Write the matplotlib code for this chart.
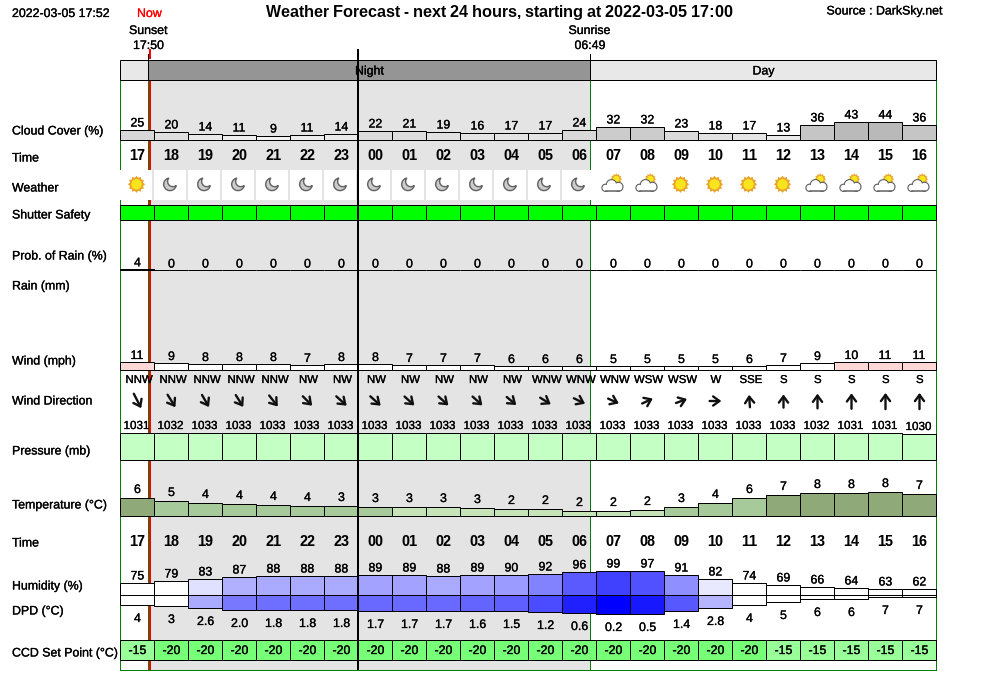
import numpy as np
import matplotlib
matplotlib.use("Agg")
from matplotlib import pyplot as plt
from matplotlib import patheffects as pe
from matplotlib.patches import Circle, Polygon, Rectangle

plt.rcParams["font.family"] = ["Liberation Sans", "DejaVu Sans"]
plt.rcParams["text.hinting"] = "native"
plt.rcParams["text.hinting_factor"] = 1

hours = ["17", "18", "19", "20", "21", "22", "23", "00", "01", "02", "03", "04",
         "05", "06", "07", "08", "09", "10", "11", "12", "13", "14", "15", "16"]
cloud = [25, 20, 14, 11, 9, 11, 14, 22, 21, 19, 16, 17, 17, 24, 32, 32, 23, 18, 17, 13, 36, 43, 44, 36]
weather = ["sun"] + ["moon"] * 13 + ["cloud"] * 2 + ["sun"] * 4 + ["cloud"] * 4
rain_prob = [4] + [0] * 23
wind = [11, 9, 8, 8, 8, 7, 8, 8, 7, 7, 7, 6, 6, 6, 5, 5, 5, 5, 6, 7, 9, 10, 11, 11]
wind_names = ["NNW", "NNW", "NNW", "NNW", "NNW", "NW", "NW", "NW", "NW", "NW", "NW", "NW",
              "WNW", "WNW", "WNW", "WSW", "WSW", "W", "SSE", "S", "S", "S", "S", "S"]
wind_bearing = [333, 328, 330, 328, 322, 315, 312, 312, 312, 312, 312, 310,
                302, 296, 294, 245, 250, 270, 176, 180, 180, 180, 180, 180]
pressure = [1031, 1032, 1033, 1033, 1033, 1033, 1033, 1033, 1033, 1033, 1033, 1033,
            1033, 1033, 1033, 1033, 1033, 1033, 1033, 1033, 1032, 1031, 1031, 1030]
temperature = [6.1, 5.0, 4.3, 4.0, 3.7, 3.5, 3.2, 3.0, 2.9, 2.9, 2.7, 2.3,
               2.3, 1.7, 1.7, 2.0, 3.0, 4.3, 6.0, 7.0, 7.7, 7.7, 8.0, 7.3]
humidity = [75, 79, 83, 87, 88, 88, 88, 89, 89, 88, 89, 90, 92, 96, 99, 97, 91, 82, 74, 69, 66, 64, 63, 62]
dpd = [4, 3.4, 2.6, 2.0, 1.8, 1.8, 1.8, 1.7, 1.7, 1.7, 1.6, 1.5,
       1.2, 0.6, 0.2, 0.5, 1.4, 2.8, 4, 5, 6, 6, 7, 7]
ccd = [-15, -20, -20, -20, -20, -20, -20, -20, -20, -20, -20, -20,
       -20, -20, -20, -20, -20, -20, -20, -15, -15, -15, -15, -15]

row_labels = [("Cloud Cover (%)", 130.5), ("Time", 157.5), ("Weather", 187.5), ("Shutter Safety", 214.5),
              ("Prob. of Rain (%)", 255.5), ("Rain (mm)", 285.5), ("Wind (mph)", 360.5),
              ("Wind Direction", 400.5), ("Pressure (mb)", 450.5), ("Temperature (°C)", 504.5),
              ("Time", 542.5), ("Humidity (%)", 585.5), ("DPD (°C)", 610.5), ("CCD Set Point (°C)", 652.5)]

# layout, in pixels
X0 = 120.5
CELL = 34
PX = 0.72
X_RIGHT = X0 + CELL * 24
X_SUNSET = 148.5
X_SUNRISE = 590.5
X_MIDNIGHT = 359
Y_BOTTOM = 670.5
SMALL = 8.9
xs = X0 + CELL * np.arange(24)
mid = xs + CELL / 2

fig = plt.figure(figsize=(10, 6.8), dpi=100)
ax = fig.add_axes([0, 0, 1, 1])
# one pixel offset so the 1px lines snap on the same rows as the original
ax.set_xlim(1, 1001)
ax.set_ylim(681, 1)
ax.set_axis_off()


def label(x, y, s, size=SMALL, ha="center", heavy=True, **kw):
    t = ax.text(x + 1, y + 2, s, fontsize=size, ha=ha, va="center", zorder=8, **kw)
    if heavy:
        t.set_path_effects([pe.withStroke(linewidth=0.2, foreground=kw.get("color", "black"))])


def bars(base, heights, colors, direction=-1):
    ax.bar(xs, direction * np.round(heights), width=CELL, bottom=base, align="edge",
           color=colors, edgecolor="black", linewidth=PX, zorder=4)


def grey(v):
    return (v / 255, v / 255, v / 255)


def blue(v):
    return (v / 255, v / 255, 1)


def star(cx, cy, r_out, r_in, disk, zorder=5):
    ang = np.arange(24) * np.pi / 12
    rad = np.where(np.arange(24) % 2 == 0, r_out, r_in)
    ax.add_patch(Polygon(np.c_[cx + rad * np.sin(ang), cy + rad * np.cos(ang)],
                         fc="#e9a42c", ec="none", zorder=zorder))
    ax.add_patch(Circle((cx, cy), disk, fc="#f9e51e", ec="none", zorder=zorder))


def moon(cx, cy):
    R, r, off = 6.3, 5.2, 4.0
    base = np.arctan2(-1, 1)
    a = np.arccos((off ** 2 + R ** 2 - r ** 2) / (2 * off * R))
    t1 = np.linspace(base + a, base + 2 * np.pi - a, 40)
    ix, iy = off * np.cos(base), off * np.sin(base)
    p1x, p1y = R * np.cos(base + a), R * np.sin(base + a)
    p2x, p2y = R * np.cos(base - a), R * np.sin(base - a)
    s1 = np.arctan2(p1y - iy, p1x - ix)
    s2 = np.arctan2(p2y - iy, p2x - ix)
    if s2 < s1:
        s2 += 2 * np.pi
    t2 = np.linspace(s2, s1, 30)
    outer = np.c_[cx + R * np.cos(t1), cy + R * np.sin(t1)]
    inner = np.c_[cx + ix + r * np.cos(t2), cy + iy + r * np.sin(t2)]
    ax.add_patch(Polygon(np.r_[outer, inner], fc="#cccccc", ec="#606060", lw=1.0, zorder=5))


def cloud_icon(cx, cy):
    star(cx + 2.8, cy - 5.2, 5.8, 4.3, 3.3)
    bumps = [(cx - 8, cy + 3.5, 3.4), (cx - 2, cy + 0.5, 5.0), (cx + 5, cy + 2.5, 4.3)]
    for x, y, r in bumps:
        ax.add_patch(Circle((x, y), r, fc="white", ec="#606060", lw=1.1, zorder=6))
    ax.add_patch(Rectangle((cx - 8, cy + 2), 13, 4.6, fc="white", ec="none", zorder=6))
    for x, y, r in bumps:
        ax.add_patch(Circle((x, y), r - 0.4, fc="white", ec="none", zorder=6))
    ax.plot([cx - 8, cx + 5], [cy + 6.8, cy + 6.8], color="#606060", lw=1.1, zorder=6)


# night background and frame
ax.add_patch(Rectangle((X_SUNSET, 80.5), X_SUNRISE - X_SUNSET, Y_BOTTOM - 80.5, fc="#e4e4e4", ec="none", zorder=1))
for x in [X0, X_SUNSET, X_SUNRISE, X_RIGHT]:
    ax.plot([x, x], [80.5, Y_BOTTOM], color="green", lw=PX, zorder=2)
ax.plot([X0, X_RIGHT], [Y_BOTTOM, Y_BOTTOM], color="green", lw=PX, zorder=2)
ax.plot([151, 151], [50, 60], color="red", lw=2 * PX, zorder=2, solid_capstyle="butt")
ax.plot([151, 151], [80.5, Y_BOTTOM], color="red", lw=2 * PX, zorder=2, solid_capstyle="butt")

# header
ax.add_patch(Rectangle((X0, 60.5), X_SUNSET - X0, 20, fc="#e8e8e8", ec="black", lw=PX, zorder=3))
ax.add_patch(Rectangle((X_SUNSET, 60.5), X_SUNRISE - X_SUNSET, 20, fc="#959595", ec="black", lw=PX, zorder=3))
ax.add_patch(Rectangle((X_SUNRISE, 60.5), X_RIGHT - X_SUNRISE, 20, fc="#e8e8e8", ec="black", lw=PX, zorder=3))
ax.plot([X_SUNSET, X_SUNSET], [55, 60.5], color="black", lw=PX, zorder=3)
ax.plot([X_SUNRISE, X_SUNRISE], [55, 60.5], color="black", lw=PX, zorder=3)
ax.plot([X_MIDNIGHT, X_MIDNIGHT], [50, Y_BOTTOM], color="black", lw=2 * PX, zorder=7, solid_capstyle="butt")
label(369.5, 70, "Night")
label(763, 70, "Day")

# top texts
label(12, 12.5, "2022-03-05 17:52", ha="left")
label(149.5, 12.5, "Now", color="red")
label(148.5, 29.5, "Sunset")
label(148.5, 44.5, "17:50")
label(590, 29.5, "Sunrise")
label(590, 44.5, "06:49")
label(499.5, 11, "Weather Forecast - next 24 hours, starting at 2022-03-05 17:00", size=11.4,
      fontweight="bold", heavy=False)
label(883, 10, "Source : DarkSky.net")

for name, y in row_labels:
    label(12, y - 0.5, name, ha="left")

# cloud
h = np.array(cloud) * 0.41
bars(140.5, h, [grey(255 - 1.6 * c) for c in cloud])
for x, v, t in zip(mid, cloud, h):
    label(x, 140.5 - round(t) - 8.5, str(v))

# time rows
for y in [155, 540.5]:
    for x, t in zip(mid, hours):
        label(x, y, t, size=10.5, fontweight="bold", heavy=False)

# weather icons
for x, kind in zip(xs, weather):
    ax.add_patch(Rectangle((x + 0.5, 171), 32, 30, fc="white", ec="none", zorder=3))
    if kind == "sun":
        star(x + 17, 185.3, 8.6, 6.7, 5.2)
    elif kind == "moon":
        moon(x + 16.5, 185.3)
    else:
        cloud_icon(x + 18, 185.3)

# shutter
bars(220.5, np.full(24, 15), "#00ff00")

# rain probability
h = np.array(rain_prob) * 0.3
bars(270.5, h, "black")
for x, v, t in zip(mid, rain_prob, h):
    label(x, 263 - t, str(v))

# wind
h = np.array(wind) * 0.75
bars(370.5, h, ["#ffd7d7" if w >= 10 else "white" for w in wind])
for x, v, t in zip(mid, wind, h):
    label(x, 370.5 - round(t) - 8, str(v))
for x, name, b, w in zip(mid, wind_names, wind_bearing, wind):
    label(x, 379, name, size=8.2)
    length = 8 + 0.75 * w
    dx = -np.sin(np.radians(b)) * length / 2
    dy = np.cos(np.radians(b)) * length / 2
    ax.annotate("", xy=(x + 1 + dx, 402 + dy), xytext=(x + 1 - dx, 402 - dy), zorder=6,
                arrowprops=dict(arrowstyle="->,head_length=0.45,head_width=0.33", lw=1.7,
                                color="#101010", shrinkA=0, shrinkB=0))

# pressure
h = np.clip(np.array(pressure) - 1004, 0, 27)
bars(460.5, h, "#c4ffc4")
for x, v, t in zip(mid, pressure, h):
    label(x, 460.5 - t - 9, str(v), size=8.4)

# temperature
h = np.array(temperature) * 3
cols = ["#8fa978" if t >= 6.05 else "#a7ca9a" if t >= 3 else "#c6e4b8" for t in temperature]
bars(516.5, h, cols)
for x, v, t in zip(mid, temperature, h):
    label(x, 516.5 - round(t) - 10, f"{v:.0f}")

# humidity and dew point depression
h = (np.array(humidity) - 50) * 0.5
cols = [blue(np.interp(v, [79, 82, 83, 87, 88, 90, 92, 96, 99], [255, 232, 224, 176, 170, 155, 130, 90, 64])) for v in humidity]
bars(595.5, h, cols)
for x, v, t in zip(mid, humidity, h):
    label(x, 595.5 - round(t) - 8.5, str(v))
h = 20 - 2.6 * np.array(dpd)
cols = [blue(np.interp(v, [0.2, 0.5, 0.6, 1.2, 1.5, 1.8, 2.0, 2.6, 2.8, 3.0], [0, 24, 32, 75, 95, 110, 120, 170, 180, 255])) for v in dpd]
bars(595.5, h, cols, direction=1)
for x, v, t in zip(mid, dpd, h):
    label(x, 595.5 + round(t) + 12, f"{v:.0f}" if v >= 3 else f"{v:.1f}")

# ccd set point
bars(660.5, np.full(24, 20), ["#99ff99" if c == -15 else "#77ff77" for c in ccd])
for x, v in zip(mid, ccd):
    label(x, 649.5, str(v))

fig.savefig("out.png", dpi=100)
